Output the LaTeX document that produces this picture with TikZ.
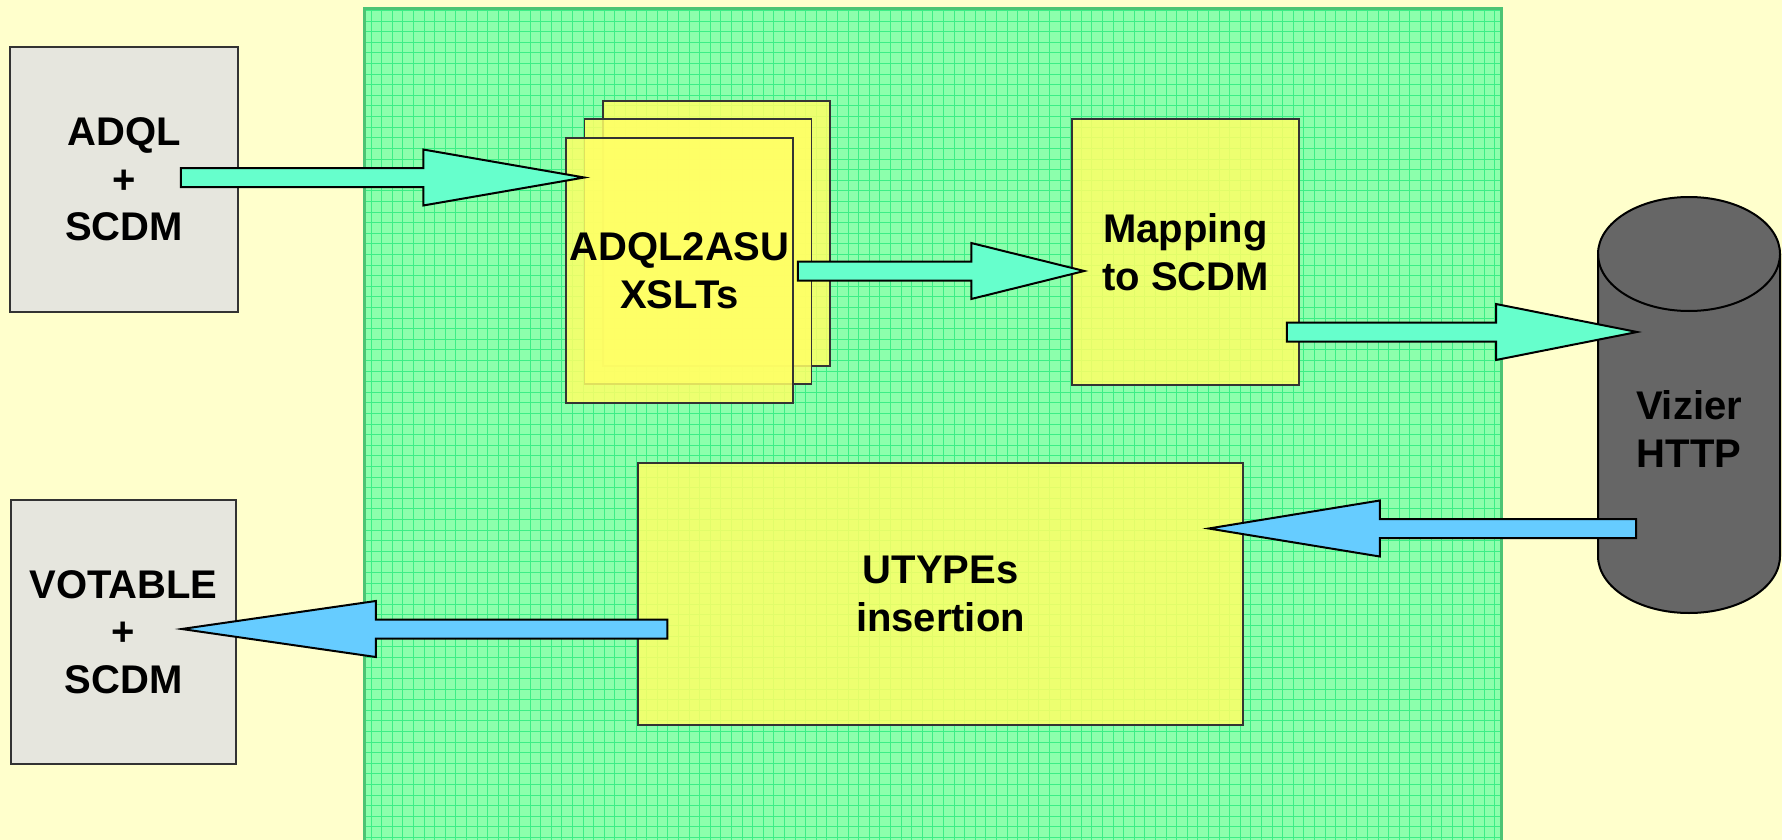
\documentclass[tikz,border=0pt]{standalone}
\usepackage{fontspec}
\setmainfont{Liberation Sans}
\usetikzlibrary{calc}
\definecolor{paper}{HTML}{FFFFCC}
\definecolor{panelgreen}{HTML}{8CFFAC}
\definecolor{gridgreen}{HTML}{3CEE86}
\definecolor{paneledge}{HTML}{4CC474}
\definecolor{boxgray}{HTML}{E6E6DE}
\definecolor{boxyellow}{HTML}{FFFF66}
\definecolor{flowcyan}{HTML}{66FFCC}
\definecolor{flowblue}{HTML}{66CCFF}
\definecolor{dbgray}{HTML}{666666}

% horizontal block arrow from coordinate #2 to tip #3, head length #4 (signed)
\newcommand\blockarrow[4]{%
  \draw[#1] let \p1=(#2), \p2=(#3) in
    (\x1,{\y1+4.75pt}) -- ({\x2-(#4)},{\y1+4.75pt}) -- ({\x2-(#4)},{\y1+14pt}) --
    (\x2,\y1) --
    ({\x2-(#4)},{\y1-14pt}) -- ({\x2-(#4)},{\y1-4.75pt}) -- (\x1,{\y1-4.75pt}) -- cycle;}

\begin{document}
\begin{tikzpicture}[x=0.5pt,y=-0.5pt,
  txt/.style={font=\bfseries\fontsize{20}{23.75}\selectfont, align=center, text=black},
  graybox/.style={txt, draw=black!80, line width=0.75pt, fill=boxgray, inner sep=0pt},
  ybox/.style={txt, draw=black!80, line width=0.75pt, fill=boxyellow, fill opacity=0.85,
    text opacity=1, inner sep=0pt, minimum width=113.5pt, minimum height=132.5pt},
  barrow/.style={draw=black, line width=1pt, line join=miter}]

\useasboundingbox (0,0) rectangle (1782,840);
\fill[paper] (0,0) rectangle (1782,840);

% green processing panel with its grid
\begin{scope}
  \clip (364,9) rectangle (1501,840);
  \fill[panelgreen] (364,9) rectangle (1501,840);
  \draw[gridgreen, line width=0.5pt, step=5.3pt] (364,9) grid (1501,840);
\end{scope}
\draw[paneledge, line width=1.5pt] (364,850) -- (364,9) -- (1501,9) -- (1501,850);

% input and output
\node[graybox, minimum width=114pt, minimum height=132.5pt] (adql) at (124,179.5) {ADQL\\+\\SCDM};
\node[graybox, minimum width=112.5pt, minimum height=132pt] (votable) at (123.5,632) {VOTABLE\\+\\SCDM};

% stack of XSLT sheets
\node[ybox] (xsltback) at (716.5,233.5) {};
\node[ybox] (xsltmid) at (698,251.5) {};
\node[ybox] (xslt) at (679.5,270.5) {ADQL2ASU\\XSLTs};

\node[ybox, minimum height=133pt] (mapping) at (1185.5,252) {Mapping\\to SCDM};
\node[ybox, minimum width=302.5pt, minimum height=131pt] (utypes) at (940.5,594) {UTYPEs\\insertion};

% Vizier database
\draw[fill=dbgray, draw=black, line width=1pt]
  (1598,254) -- (1598,556)
  arc[start angle=180, end angle=360, x radius=45.5pt, y radius=28.5pt]
  -- (1780,254)
  arc[start angle=0, end angle=180, x radius=45.5pt, y radius=28.5pt] -- cycle;
\draw[draw=black, line width=1pt] (1598,254)
  arc[start angle=180, end angle=360, x radius=45.5pt, y radius=28.5pt];
\node[txt] (vizier) at (1689,429) {Vizier\\HTTP};

% data flow
\coordinate (a1s) at ($(adql.east)+(-58,-2)$);
\coordinate (a1t) at ($(xslt.north west)+(19,39.5)$);
\coordinate (a2s) at ($(xslt.east)+(4,0.5)$);
\coordinate (a2t) at ($(mapping.west)+(13,19)$);
\coordinate (a3s) at ($(mapping.east)+(-13,80)$);
\coordinate (a3t) at ($(vizier.center)+(-52,-97)$);
\coordinate (a4s) at ($(vizier.center)+(-53,99.5)$);
\coordinate (a4t) at ($(utypes.east)+(-35,-65.5)$);
\coordinate (a5s) at ($(utypes.west)+(30,35)$);
\coordinate (a5t) at ($(votable.east)+(-55,-3)$);

\blockarrow{barrow, fill=flowcyan}{a1s}{a1t}{80.5pt}
\blockarrow{barrow, fill=flowcyan}{a2s}{a2t}{56.5pt}
\blockarrow{barrow, fill=flowcyan}{a3s}{a3t}{70.5pt}
\blockarrow{barrow, fill=flowblue}{a4s}{a4t}{-85.5pt}
\blockarrow{barrow, fill=flowblue}{a5s}{a5t}{-97pt}
\end{tikzpicture}
\end{document}
